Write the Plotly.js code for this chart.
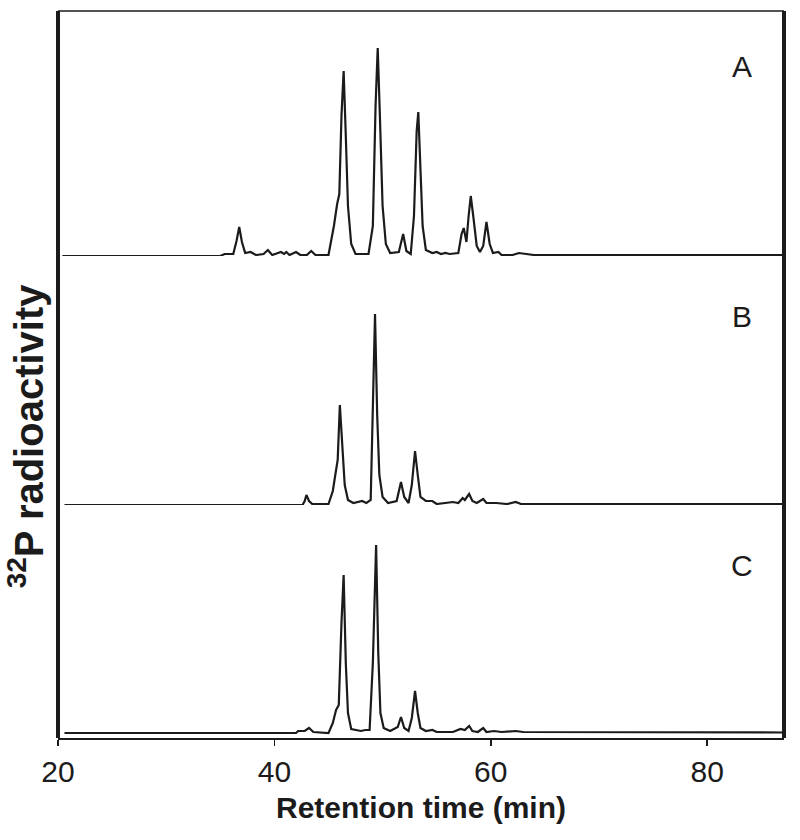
<!DOCTYPE html>
<html>
<head>
<meta charset="utf-8">
<script src="https://cdn.plot.ly/plotly-3.0.1.min.js"></script>
<style>html,body{margin:0;padding:0;background:#fff;}#chart{width:800px;height:840px;}</style>
</head>
<body>
<div id="chart"></div>
<script>
// Retention time (min) and 32P radioactivity (arbitrary units)
const timeA = [20.4,35.0,35.4,36.2,36.5,36.75,37.0,37.3,37.8,38.3,39.0,39.4,39.8,40.3,40.6,40.9,41.1,41.4,42.0,42.4,43.0,43.4,43.8,45.0,45.5,45.8,46.0,46.2,46.4,46.6,46.8,47.1,47.5,48.7,49.1,49.35,49.55,49.75,50.0,50.3,50.7,51.5,51.9,52.2,52.6,52.9,53.15,53.3,53.5,53.7,54.0,54.6,55.0,55.4,55.8,56.2,57.0,57.3,57.5,57.75,57.95,58.15,58.4,58.7,59.0,59.3,59.6,59.9,60.2,60.7,61.0,62.0,62.6,63.5,64.0,70,75,80,87.1];
const radA  = [0,0,2,2,15,29,14,3,4,1,2,6,1,3,4,2,4,1,4,1,1,5,1,1,30,52,62,140,185,120,50,12,2,2,30,150,208,140,50,12,3,4,22,5,2,40,125,144,90,30,6,3,4,2,3,2,3,22,28,14,40,60,38,10,4,10,34,12,3,4,1,1,3,2,1,1,1,1,1];

const timeB = [20.6,42.6,42.8,42.96,43.2,43.5,45.0,45.4,45.6,45.85,46.05,46.25,46.5,46.8,47.3,48.1,48.5,48.9,49.1,49.3,49.5,49.7,50.0,50.5,51.3,51.7,52.0,52.4,52.7,53.0,53.25,53.5,54.0,54.6,55.0,56.0,56.5,57.0,57.4,57.6,58.0,58.3,58.7,59.3,59.6,60.5,61.5,62.3,62.8,65,70,75,80,87.1];
const radB  = [0,0,4,10,4,1,1,14,28,45,100,60,20,5,2,4,2,5,100,191,90,30,8,2,4,23,8,2,20,54,30,8,4,4,1,2,3,2,7,5,11,4,2,6,2,2,1,3,1,1,1,1,1,1];

const timeC = [20.6,42.0,42.2,42.8,43.2,43.6,45.0,45.4,45.7,45.95,46.2,46.4,46.6,46.8,47.1,48.0,48.4,48.8,49.1,49.4,49.6,49.8,50.1,50.7,51.4,51.7,52.0,52.4,52.7,53.0,53.25,53.5,54.0,54.6,55.0,56.5,57.2,57.6,58.0,58.3,58.8,59.3,59.6,60.3,61.0,62.3,63.0,70,75,79,80,87.1];
const radC  = [0,0,2,2,5,1,0,10,23,28,110,158,70,20,4,2,3,3,70,188,80,20,5,2,6,16,5,2,15,42,20,5,2,3,1,1,4,3,7,2,1,5,1,2,1,2,1,1,1,1,0.5,0.5];

const panelLabels = ["A", "B", "C"];
const xTicks = [20, 40, 60, 80];

const lineStyle = {color: '#1b1b1b', width: 2.2};
const traces = [
  {x: timeA, y: radA, xaxis: 'x', yaxis: 'y3', type: 'scatter', mode: 'lines', line: lineStyle, name: panelLabels[0], hoverinfo: 'x+y'},
  {x: timeB, y: radB, xaxis: 'x', yaxis: 'y2', type: 'scatter', mode: 'lines', line: lineStyle, name: panelLabels[1], hoverinfo: 'x+y'},
  {x: timeC, y: radC, xaxis: 'x', yaxis: 'y',  type: 'scatter', mode: 'lines', line: lineStyle, name: panelLabels[2], hoverinfo: 'x+y'}
];

const hiddenY = {showgrid: false, zeroline: false, showticklabels: false, ticks: '', showline: false, fixedrange: true};
const sans = '"Liberation Sans", Arial, sans-serif';

const layout = {
  width: 800, height: 840,
  margin: {l: 58, r: 16, t: 11, b: 102},
  paper_bgcolor: '#fff', plot_bgcolor: '#fff',
  showlegend: false,
  font: {family: sans, color: '#1b1b1b'},
  xaxis: {
    range: [20, 87.1], tickvals: xTicks, ticktext: xTicks.map(String),
    ticks: 'outside', ticklen: 6, tickwidth: 1.5, tickcolor: '#1b1b1b',
    showline: true, linewidth: 2, linecolor: '#1b1b1b',
    showgrid: false, zeroline: false, anchor: 'y',
    tickfont: {family: sans, size: 30, color: '#1b1b1b'},
    title: {text: 'Retention time (min)', font: {family: sans, size: 30, color: '#1b1b1b', weight: 'bold'}, standoff: 10}
  },
  yaxis:  Object.assign({domain: [0, 0.3205], range: [-5, 228]}, hiddenY),
  yaxis2: Object.assign({domain: [0.3205, 0.663], range: [0, 249]}, hiddenY),
  yaxis3: Object.assign({domain: [0.663, 1], range: [0, 245]}, hiddenY),
  shapes: [
    {type: 'line', xref: 'paper', yref: 'paper', x0: 0, x1: 0, y0: 0, y1: 1, line: {color: '#1b1b1b', width: 4}},
    {type: 'line', xref: 'paper', yref: 'paper', x0: 1, x1: 1, y0: 0, y1: 1, line: {color: '#1b1b1b', width: 4}},
    {type: 'line', xref: 'paper', yref: 'paper', x0: 0, x1: 1, y0: 1, y1: 1, line: {color: '#1b1b1b', width: 1.5}}
  ],
  annotations: [
    {text: '<sup>32</sup>P radioactivity', xref: 'paper', yref: 'paper', x: -0.044, y: 0.415, textangle: -90,
     showarrow: false, xanchor: 'center', yanchor: 'middle', font: {family: sans, size: 40, color: '#1b1b1b', weight: 'bold'}},
    {text: panelLabels[0], xref: 'x', yref: 'y3 domain', x: 83.2, y: 0.849, showarrow: false, font: {size: 30, color: '#1b1b1b'}},
    {text: panelLabels[1], xref: 'x', yref: 'y2 domain', x: 83.2, y: 0.831, showarrow: false, font: {size: 30, color: '#1b1b1b'}},
    {text: panelLabels[2], xref: 'x', yref: 'y domain',  x: 83.2, y: 0.82,  showarrow: false, font: {size: 30, color: '#1b1b1b'}}
  ]
};

Plotly.newPlot('chart', traces, layout, {displayModeBar: false, staticPlot: true});
</script>
</body>
</html>
